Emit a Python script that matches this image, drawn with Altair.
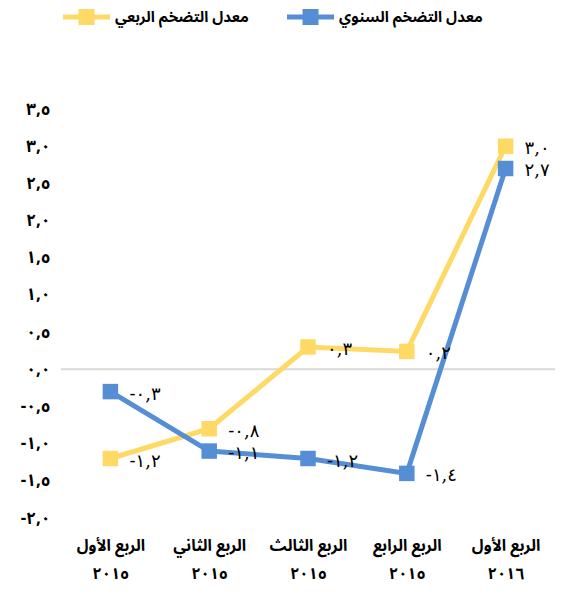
import altair as alt
import pandas as pd

quarters = ["الربع الأول\n٢٠١٥", "الربع الثاني\n٢٠١٥", "الربع الثالث\n٢٠١٥",
            "الربع الرابع\n٢٠١٥", "الربع الأول\n٢٠١٦"]
series_names = ["معدل التضخم الربعي", "معدل التضخم السنوي"]
quarterly = [-1.2, -0.8, 0.3, 0.24, 3.0]
annual = [-0.3, -1.1, -1.2, -1.4, 2.7]
y_ticks = [-2.0, -1.5, -1.0, -0.5, 0.0, 0.5, 1.0, 1.5, 2.0, 2.5, 3.0, 3.5]
colors = ["#FFD966", "#558ED5"]
FONT = "Noto Sans Arabic, Noto Naskh Arabic, DejaVu Sans"

tr = str.maketrans("0123456789.", "٠١٢٣٤٥٦٧٨٩,")


def ar(v):
    s = f"{abs(v):.1f}".translate(tr)
    return ("-" if v < 0 else "") + s


rows = []
for name, vals in zip(series_names, [quarterly, annual]):
    for q, v in zip(quarters, vals):
        rows.append({"quarter": q, "series": name, "value": v, "label": ar(v)})
df = pd.DataFrame(rows)
zero_df = pd.DataFrame({"value": [0.0]})

label_expr = ""
for t in y_ticks:
    label_expr += f"abs(datum.value - ({t})) < 0.001 ? '{ar(t)}' : "
label_expr += "''"

# legend symbol: 16px square on a 47px line (units of 8px)
sym = "M-1,-0.31H4.88V0.31H-1Z M0.94,-1H2.94V1H0.94Z"

x_axis = alt.Axis(labelAngle=0, labelExpr="split(datum.label, '\\n')",
                  labelFontSize=16, labelFontWeight="bold",
                  labelLineHeight=28, labelPadding=19, ticks=False,
                  domain=False, grid=False, labelColor="#000000",
                  labelFont=FONT, labelBaseline="top", labelOverlap=False)
x_enc = alt.X("quarter:N", sort=quarters, title=None, axis=x_axis)
y_scale = alt.Scale(domain=[-2, 3.5], nice=False, zero=False)
y_axis = alt.Axis(values=y_ticks, labelExpr=label_expr, grid=False,
                  domain=False, ticks=False, labelPadding=11,
                  labelFontSize=17, labelFontWeight="bold",
                  labelOverlap=False, labelColor="#000000", labelFont=FONT)
y_enc = alt.Y("value:Q", title=None, scale=y_scale, axis=y_axis)
color_enc = alt.Color("series:N", title=None,
                      scale=alt.Scale(domain=series_names, range=colors),
                      legend=alt.Legend(orient="none", direction="horizontal",
                                        legendX=2, legendY=-100,
                                        symbolType=sym, symbolSize=256,
                                        symbolStrokeWidth=0, labelFontSize=15,
                                        labelFontWeight="bold", labelFont=FONT,
                                        labelColor="#000000", labelOffset=36,
                                        columnPadding=38, padding=0, labelLimit=300))

zero = alt.Chart(zero_df).mark_rule(color="#d9d9d9", strokeWidth=2).encode(y=y_enc)

layers = [zero]
for name in series_names:
    base = alt.Chart(df).transform_filter(alt.datum.series == name)
    layers.append(base.mark_line(strokeWidth=5).encode(x=x_enc, y=y_enc, color=color_enc))
    layers.append(base.mark_point(shape="square", filled=True, size=240, opacity=1)
                  .encode(x=x_enc, y=y_enc, color=color_enc))
for name in series_names:
    base = alt.Chart(df).transform_filter(alt.datum.series == name)
    layers.append(base.mark_text(align="left", baseline="middle", dx=19, dy=3,
                                 fontSize=18, font="DejaVu Serif, DejaVu Sans", color="#000000")
                  .encode(x=x_enc, y=y_enc, text="label:N"))

chart = alt.layer(*layers).properties(
    width=494, height=409,
    autosize=alt.AutoSizeParams(type="none"),
    padding={"left": 53, "top": 101, "right": 0, "bottom": 76},
).configure_view(stroke=None)

chart.save("out.html", embed_options={"renderer": "svg", "actions": False})
